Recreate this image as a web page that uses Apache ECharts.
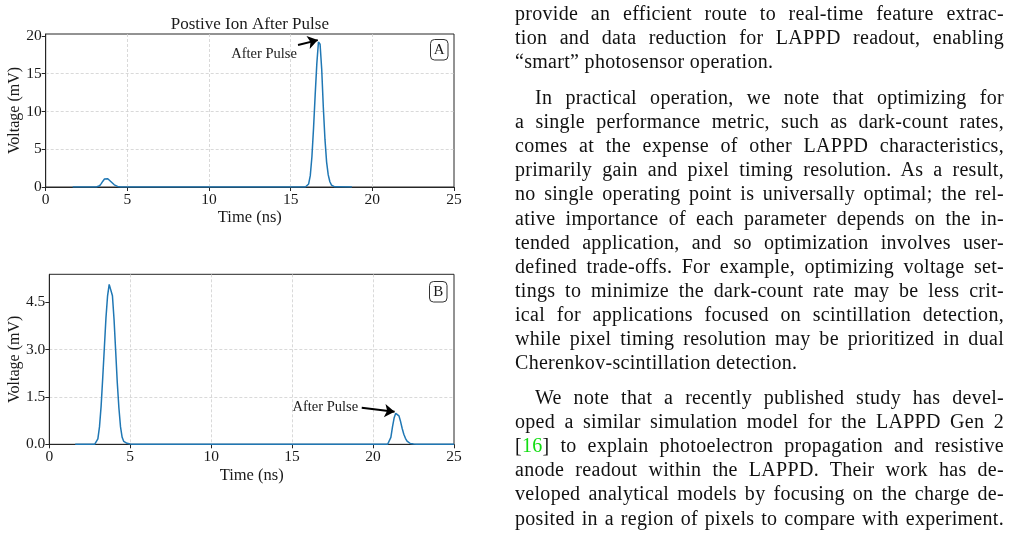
<!DOCTYPE html>
<html>
<head>
<meta charset="utf-8">
<script src="https://cdn.jsdelivr.net/npm/echarts@6/dist/echarts.min.js"></script>
<style>
html,body{margin:0;padding:0;background:#fff;width:1011px;height:533px;overflow:hidden;}
#chart{position:absolute;left:0;top:0;width:480px;height:533px;}
#text{position:absolute;left:0;top:0;width:1011px;height:533px;font-family:'Liberation Serif',serif;font-size:20px;color:#111;letter-spacing:0.3px;}
.l{position:absolute;left:515px;width:489px;height:24.1px;line-height:24.1px;overflow:hidden;text-align:justify;text-align-last:justify;}
.l.last{text-align-last:left;}
.l.ind{text-indent:20px;}
.cite{color:#11dd11;}
</style>
</head>
<body>
<div id="chart"></div>
<div id="text"></div>
<script>
// ---- Panel A data (time in ns, voltage in mV) ----
const timeA = [1.65, 3.1, 3.2, 3.3, 3.4, 3.5, 3.6, 3.7, 3.8, 3.9, 4.0, 4.1, 4.2, 4.3, 4.4, 4.5, 4.6, 4.7,
  15.9, 16.0, 16.1, 16.2, 16.3, 16.4, 16.5, 16.6, 16.7, 16.75, 16.8, 16.9, 17.0, 17.1, 17.2, 17.3, 17.4, 17.5, 17.6, 17.7, 17.8, 18.75];
const voltA = [0, 0, 0.05, 0.17, 0.45, 0.77, 1.05, 1.15, 1.09, 0.92, 0.70, 0.47, 0.29, 0.16, 0.08, 0.03, 0.01, 0,
  0, 0.05, 0.4, 1.5, 4.0, 7.8, 12.2, 16.3, 19.2, 19.4, 18.9, 15.6, 10.5, 6.3, 3.3, 1.6, 0.7, 0.25, 0.08, 0.02, 0, 0];

// ---- Panel B data ----
const timeB = [1.6, 2.8, 2.9, 3.0, 3.1, 3.2, 3.3, 3.4, 3.5, 3.6, 3.7, 3.75, 3.8, 3.9, 4.0, 4.1, 4.2, 4.3, 4.4, 4.5, 4.6, 4.7, 4.8, 5.0, 5.2,
  20.9, 21.0, 21.1, 21.2, 21.3, 21.4, 21.45, 21.5, 21.6, 21.7, 21.8, 21.9, 22.0, 22.1, 22.2, 22.3, 22.5, 22.7, 25];
const voltB = [0, 0, 0.03, 0.17, 0.55, 1.2, 2.1, 3.05, 4.0, 4.7, 5.06, 5.12, 5.07, 4.7, 3.95, 2.95, 1.95, 1.15, 0.55, 0.22, 0.09, 0.05, 0.03, 0.01, 0,
  0, 0.04, 0.22, 0.55, 0.83, 0.98, 1.01, 1.0, 0.9, 0.72, 0.5, 0.32, 0.19, 0.1, 0.05, 0.025, 0.01, 0, 0];

// ---- Axis ticks ----
const xTicks = [0, 5, 10, 15, 20, 25];
const yTicksA = [0, 5, 10, 15, 20];
const yTicksB = [0, 1.5, 3.0, 4.5];
const yMaxA = 20.26;
const yMaxB = 5.38;

// ---- Texts ----
const titleA = 'Postive Ion After Pulse';
const xName = 'Time (ns)';
const yName = 'Voltage (mV)';
const annText = 'After Pulse';
// annotation anchors in data coordinates: [textRight, textMid], arrow from, arrow to
const annA = { text: [15.38, 17.6], from: [15.45, 18.8], to: [16.66, 19.45] };
const annB = { text: [19.08, 1.19], from: [19.3, 1.16], to: [21.33, 1.03] };

const FONT = 'Liberation Serif';
const AX = '#262626';

function zip(xs, ys) { return xs.map((x, i) => [x, ys[i]]); }

const gridA = { left: 45.7, top: 34, width: 408.3, height: 153 };
const gridB = { left: 49.3, top: 274.3, width: 404.7, height: 170 };

function xAxis(gi, gap) {
  return {
    gridIndex: gi, type: 'value', min: 0, max: 25, interval: 5,
    axisLine: { show: true, onZero: false, lineStyle: { color: AX, width: 1 } },
    axisTick: { show: true, length: 4, lineStyle: { color: AX } },
    axisLabel: { color: '#1a1a1a', fontFamily: FONT, fontSize: 15.5, margin: 5 },
    splitLine: { show: true, showMinLine: false, showMaxLine: false, lineStyle: { color: '#cfcfcf', type: [3, 2], width: 0.8 } },
    name: xName, nameLocation: 'middle', nameGap: gap, nameMoveOverlap: false,
    nameTextStyle: { color: '#1a1a1a', fontFamily: FONT, fontSize: 16.5 }
  };
}
function yAxis(gi, max, ticks, gap, fmt) {
  return {
    gridIndex: gi, type: 'value', min: 0, max: max,
    axisLine: { show: true, onZero: false, lineStyle: { color: AX, width: 1 } },
    axisTick: { show: true, length: 4, customValues: ticks, lineStyle: { color: AX } },
    axisLabel: { color: '#1a1a1a', fontFamily: FONT, fontSize: 15.5, margin: 4, customValues: ticks, formatter: fmt },
    splitLine: { show: true, showMinLine: false, showMaxLine: false, lineStyle: { color: '#cfcfcf', type: [3, 2], width: 0.8 } },
    name: yName, nameLocation: 'middle', nameGap: gap, nameMoveOverlap: false,
    nameTextStyle: { color: '#1a1a1a', fontFamily: FONT, fontSize: 16 }
  };
}
function arrow(a) {
  return {
    silent: true, animation: false, symbol: ['none', 'arrow'], symbolSize: 10,
    label: { show: false }, emphasis: { disabled: true },
    lineStyle: { color: '#000', width: 2, type: 'solid' },
    itemStyle: { color: '#000' },
    data: [[{ coord: a.from }, { coord: a.to }]]
  };
}

const chart = echarts.init(document.getElementById('chart'), null, { renderer: 'canvas' });
chart.setOption({
  animation: false,
  backgroundColor: '#fff',
  title: {
    text: titleA, left: gridA.left + gridA.width / 2, top: 16.5, textAlign: 'center', padding: 0,
    textStyle: { fontFamily: FONT, fontSize: 17, fontWeight: 'normal', color: '#1a1a1a' }
  },
  grid: [
    Object.assign({ show: true, borderColor: AX, borderWidth: 1, outerBoundsMode: 'none', containLabel: false }, gridA),
    Object.assign({ show: true, borderColor: AX, borderWidth: 1, outerBoundsMode: 'none', containLabel: false }, gridB)
  ],
  xAxis: [xAxis(0, 22), xAxis(1, 23)],
  yAxis: [
    yAxis(0, yMaxA, yTicksA, 23, v => String(v)),
    yAxis(1, yMaxB, yTicksB, 26.5, v => Number(v).toFixed(1))
  ],
  series: [
    { type: 'line', xAxisIndex: 0, yAxisIndex: 0, data: zip(timeA, voltA), showSymbol: false, symbol: 'none',
      lineStyle: { color: '#1f77b4', width: 1.5 }, z: 3, markLine: arrow(annA) },
    { type: 'line', xAxisIndex: 1, yAxisIndex: 1, data: zip(timeB, voltB), showSymbol: false, symbol: 'none',
      lineStyle: { color: '#1f77b4', width: 1.5 }, z: 3, markLine: arrow(annB) }
  ]
});

// annotation texts and panel letters
const pA = chart.convertToPixel({ gridIndex: 0 }, annA.text);
const pB = chart.convertToPixel({ gridIndex: 1 }, annB.text);
function letterBox(x, y, w, h, t) {
  return {
    type: 'group', x: x, y: y, z: 10, children: [
      { type: 'rect', shape: { x: 0, y: 0, width: w, height: h, r: 4 }, style: { fill: '#fff', stroke: '#333', lineWidth: 1 } },
      { type: 'text', x: w / 2, y: h / 2 + 0.5, style: { text: t, font: '15px "' + FONT + '"', fill: '#1a1a1a', align: 'center', verticalAlign: 'middle' } }
    ]
  };
}
chart.setOption({
  graphic: [
    { type: 'text', x: pA[0], y: pA[1], z: 10, style: { text: annText, font: '14.5px "' + FONT + '"', fill: '#1a1a1a', align: 'right', verticalAlign: 'middle' } },
    { type: 'text', x: pB[0], y: pB[1], z: 10, style: { text: annText, font: '14.5px "' + FONT + '"', fill: '#1a1a1a', align: 'right', verticalAlign: 'middle' } },
    letterBox(430.5, 39.5, 17.5, 20.5, 'A'),
    letterBox(429.5, 281.5, 17.5, 20.5, 'B')
  ]
});

// ---- Right-hand body text ----
const para1 = [
  'provide an efficient route to real-time feature extrac-',
  'tion and data reduction for LAPPD readout, enabling',
  '\u201Csmart\u201D photosensor operation.'
];
const para2 = [
  'In practical operation, we note that optimizing for',
  'a single performance metric, such as dark-count rates,',
  'comes at the expense of other LAPPD characteristics,',
  'primarily gain and pixel timing resolution. As a result,',
  'no single operating point is universally optimal; the rel-',
  'ative importance of each parameter depends on the in-',
  'tended application, and so optimization involves user-',
  'defined trade-offs. For example, optimizing voltage set-',
  'tings to minimize the dark-count rate may be less crit-',
  'ical for applications focused on scintillation detection,',
  'while pixel timing resolution may be prioritized in dual',
  'Cherenkov-scintillation detection.'
];
const para3 = [
  'We note that a recently published study has devel-',
  'oped a similar simulation model for the LAPPD Gen 2',
  '[<span class="cite">16</span>] to explain photoelectron propagation and resistive',
  'anode readout within the LAPPD. Their work has de-',
  'veloped analytical models by focusing on the charge de-',
  'posited in a region of pixels to compare with experiment.'
];
const paras = [
  { lines: para1, top: 1.0, indent: false, endsHere: true },
  { lines: para2, top: 85.0, indent: true, endsHere: true },
  { lines: para3, top: 385.0, indent: true, endsHere: false }
];
const LH = 24.1;
const box = document.getElementById('text');
let html = '';
paras.forEach(p => {
  p.lines.forEach((ln, i) => {
    let cls = 'l';
    if (i === 0 && p.indent) cls += ' ind';
    if (i === p.lines.length - 1 && p.endsHere) cls += ' last';
    html += '<div class="' + cls + '" style="top:' + (p.top + i * LH).toFixed(1) + 'px">' + ln + '</div>';
  });
});
box.innerHTML = html;
</script>
</body>
</html>
